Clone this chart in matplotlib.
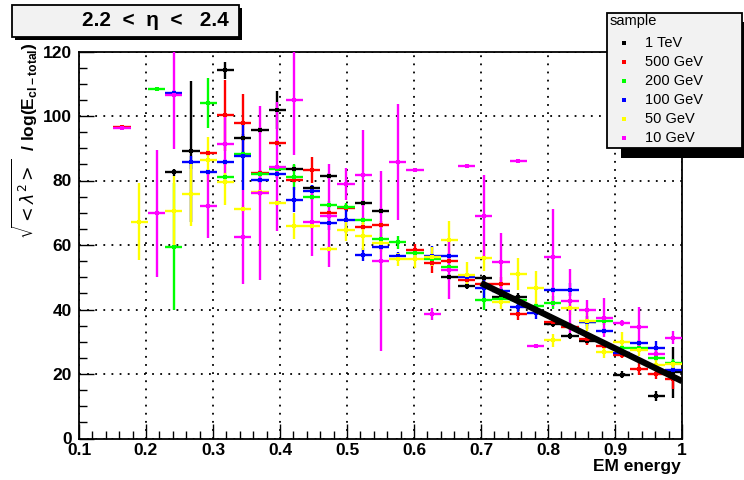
import numpy as np
import matplotlib
matplotlib.use("Agg")
import matplotlib.pyplot as plt
from matplotlib.ticker import MultipleLocator, FuncFormatter
from matplotlib.patches import Rectangle
from matplotlib.lines import Line2D

nan = np.nan

# ---- data -------------------------------------------------------------
x_min, x_max, n_bins = 0.1, 1.0, 35

labels = ["1 TeV", "500 GeV", "200 GeV", "100 GeV", "50 GeV", "10 GeV"]
colors = ["#000000", "#ff0000", "#00ff00", "#0000ff", "#ffff00", "#ff00ff"]

y_1tev = [nan, nan, nan, nan, nan, 82.5, 89, nan, 114.2, 93.3, 95.7, 101.9, 83.7, 77.6, 81.4, nan, 73.0, 70.5,
          nan, nan, nan, 50.0, 47.3, 49.7, 44.0, 44.0, nan, 35.5, 31.8, 30.3, nan, 19.8, nan, 13.2, 20.5]
e_1tev = [0, 0, 0, 0, 0, 1, 22, 0, 2.6, 1, 1, 6, 1, 1, 1, 0, 1, 1, 0, 0, 0, 1, 1, 1, 1, 1, 0, 1, 1, 1, 0, 1, 0, 1.5, 7.8]

y_500 = [nan, nan, 96.5, nan, nan, nan, nan, 88.6, 100.3, 97.9, 82.4, 91.7, 80.2, 83.3, 70.0, 71.6, 65.7, 66.3,
         nan, 58.3, 54.3, 55.0, 49.1, 48.0, 48.0, 38.6, nan, 36.1, 34.7, 31.0, 28.8, 25.9, 21.7, 20.0, 18.3]
e_500 = [0, 0, 0.5, 0, 0, 0, 0, 1, 11, 9, 1, 1, 1, 4, 1, 1, 1, 1, 0, 2, 3, 1, 1, 1, 2, 2, 0, 1, 1, 2, 1, 1, 2, 1.5, 3]

y_200 = [nan, nan, nan, nan, 108.4, 59.5, nan, 104.1, 81.2, 88.3, 82.0, 83.5, 81.1, 74.8, 72.5, 71.9, 67.6, 61.9,
         60.8, 57.4, 55.6, 53.1, nan, 43.0, 43.2, 43.0, 41.0, 42.1, nan, 36.0, 36.3, 28.0, 28.0, 25.0, 23.5]
e_200 = [0, 0, 0, 0, 0.5, 19.7, 0, 7.7, 1, 1, 1, 1, 4, 1, 1, 1, 1, 3, 2, 1, 1, 1, 0, 3, 1, 1, 1, 2, 0, 1, 1, 1, 1, 1, 1]

y_100 = [nan, nan, nan, nan, nan, 107.2, 85.7, 82.6, 85.8, 87.7, 80.2, 81.9, 74.1, 76.7, 66.7, 67.8, 57.0, 59.5,
         56.7, nan, 56.6, 56.6, 50.2, 46.6, 45.6, 40.9, 39.0, 46.1, 46.1, 36.1, 33.3, 26.4, 29.6, 28.1, 21.1]
e_100 = [0, 0, 0, 0, 0, 1, 2, 1, 1, 10.5, 1, 1, 4, 2, 2, 4, 2, 1, 1, 0, 3, 1, 1, 3, 1, 2, 2, 1, 2, 2, 1, 1, 1, 2, 1]

y_50 = [nan, nan, nan, 67.2, nan, 70.5, 75.9, 86.4, 79.4, 71.3, 76.3, 73.1, 65.9, 65.9, 58.8, 64.7, 62.8, 60.7,
        55.6, 55.8, 56.4, 61.5, 50.7, 56.0, 42.2, 51.0, 46.8, 30.4, 40.4, 36.4, 26.9, 30.0, 27.5, 22.9, 23.0]
e_50 = [0, 0, 0, 12, 0, 11, 10, 7, 7, 1, 1, 1, 4, 1, 1, 3.5, 4.5, 3, 2, 3, 3, 6, 4, 4, 2, 5, 5, 2, 2, 3, 2, 3, 2, 2, 1]

y_10 = [nan, nan, 96.3, nan, 69.8, 106.4, nan, 72.2, 91.3, 62.4, 76.0, 84.3, 104.9, 67.1, 69.1, 78.9, 81.8, 55.0,
        85.8, 83.4, 38.6, 52.4, 84.6, 69.1, 54.8, 86.0, 28.8, 56.2, 42.7, 40.0, 37.5, 35.8, 34.7, 26.3, 31.3]
e_10 = [0, 0, 0.5, 0, 19.6, 16.5, 0, 10, 9, 14.5, 27, 20, 17, 10.5, 16, 5, 14, 28, 18, 0.5, 2, 9, 0.5, 12.5, 9,
        0.3, 0.5, 15, 10, 3, 6, 1, 6, 1, 2]

fit_x = [0.7, 1.0]
fit_y = [48.2, 17.8]

series_y = [y_1tev, y_500, y_200, y_100, y_50, y_10]
series_e = [e_1tev, e_500, e_200, e_100, e_50, e_10]

# ---- figure -----------------------------------------------------------
W, H = 744, 480
plt.rcParams["font.family"] = ["Liberation Sans", "DejaVu Sans"]
fig = plt.figure(figsize=(W / 100, H / 100), dpi=100)


def fx(px):
    return px / W


def fy(py):
    return 1 - py / H


ax = fig.add_axes([fx(79), fy(438.5), (682 - 79) / W, (438.5 - 51.5) / H])

edges = np.linspace(x_min, x_max, n_bins + 1)
centers = 0.5 * (edges[:-1] + edges[1:])
hw = 0.5 * (edges[1] - edges[0])

for y, e, c in zip(series_y, series_e, colors):
    y = np.asarray(y, float)
    e = np.asarray(e, float)
    m = ~np.isnan(y)
    ax.errorbar(centers[m], y[m], yerr=e[m], xerr=hw, fmt="s", ms=2.2, color=c,
                ecolor=c, elinewidth=1.7, capsize=0, mew=0, zorder=3)

ax.plot(fit_x, fit_y, color="black", lw=4.5, solid_capstyle="butt", zorder=5)

ax.set_xlim(x_min, x_max)
ax.set_ylim(0, 120)
ax.xaxis.set_major_locator(MultipleLocator(0.1))
ax.xaxis.set_minor_locator(MultipleLocator(0.02))
ax.yaxis.set_major_locator(MultipleLocator(20))
ax.yaxis.set_minor_locator(MultipleLocator(5))
ax.xaxis.set_major_formatter(FuncFormatter(lambda v, p: "%g" % round(v, 3)))
ax.tick_params(which="both", direction="in", top=False, right=False, width=1.0)
ax.tick_params(which="major", length=11)
ax.tick_params(which="minor", length=5.5)
ax.tick_params(axis="x", pad=3)
ax.tick_params(axis="y", pad=5)
ax.grid(True, which="major", color="black", linestyle=(0, (1, 3.5)), lw=1.3)
for lab in ax.get_xticklabels() + ax.get_yticklabels():
    lab.set_fontweight("bold")
    lab.set_fontsize(12.5)
for s in ax.spines.values():
    s.set_linewidth(1.3)

# axis titles
fig.text(fx(681), fy(466), "EM energy", ha="right", va="center", fontsize=12.5, fontweight="bold")
fig.text(fx(25), fy(42), r"$\sqrt{<\lambda^{2}>}$  / log(E$_{\mathregular{cl-total}}$)", rotation=90,
         ha="center", va="top", fontsize=12.5, fontweight="bold")

# title box with shadow
fig.patches.append(Rectangle((fx(15), fy(40)), (242 - 15) / W, (40 - 8) / H, transform=fig.transFigure,
                             facecolor="black", edgecolor="none", zorder=1))
fig.patches.append(Rectangle((fx(12), fy(37)), (239 - 12) / W, (37 - 5) / H, transform=fig.transFigure,
                             facecolor="#f2f2f2", edgecolor="black", lw=1.3, zorder=2))
fig.text(fx(229), fy(21), "2.2  <  \u03b7  <   2.4", ha="right", va="center", fontsize=15,
         fontweight="bold", zorder=3)

# legend box with shadow
fig.patches.append(Rectangle((fx(621), fy(158)), (760 - 621) / W, (158 - 22) / H, transform=fig.transFigure,
                             facecolor="black", edgecolor="none", zorder=1))
fig.patches.append(Rectangle((fx(607), fy(148)), (742 - 607) / W, (148 - 13) / H, transform=fig.transFigure,
                             facecolor="#f2f2f2", edgecolor="black", lw=1.3, zorder=2))
fig.text(fx(610), fy(21), "sample", ha="left", va="center", fontsize=10.5, zorder=3)
row_y = [43, 62, 81, 100, 119, 138]
for lab, c, ry in zip(labels, colors, row_y):
    fig.lines.append(Line2D([fx(624)], [fy(ry)], marker="s", ms=2.5, color=c, mew=0,
                            transform=fig.transFigure, zorder=3))
    fig.text(fx(645), fy(ry), lab, ha="left", va="center", fontsize=10.5, zorder=3)

fig.savefig("out.png", dpi=100)
